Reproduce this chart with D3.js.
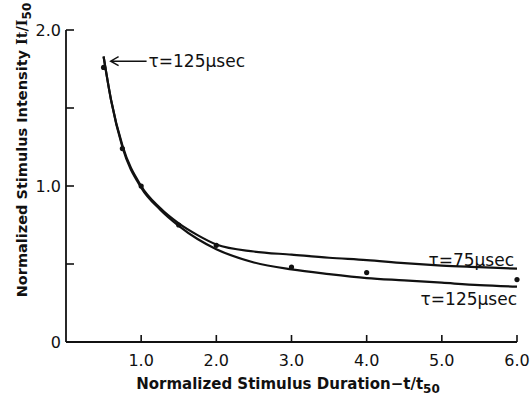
<!DOCTYPE html>
<html>
<head>
<meta charset="utf-8">
<script src="https://cdn.jsdelivr.net/npm/d3@7"></script>
<style>
  body { margin: 0; background: #fff; }
  text { font-family: "DejaVu Sans", sans-serif; fill: #111; }
</style>
</head>
<body>
<div id="chart"></div>
<script>
// curve sample points
const durations = [0.5, 0.6, 0.75, 1.0, 1.25, 1.5, 1.75, 2.0, 2.5, 3.0, 3.5, 4.0, 4.5, 5.0, 5.5, 6.0];
const tau75 = [1.83, 1.55, 1.26, 1.0, 0.86, 0.76, 0.685, 0.625, 0.58, 0.56, 0.54, 0.525, 0.505, 0.49, 0.48, 0.47];
const tau125 = [1.83, 1.55, 1.25, 0.99, 0.85, 0.745, 0.66, 0.595, 0.51, 0.465, 0.435, 0.41, 0.395, 0.38, 0.365, 0.355];

// measured points
const pointX = [0.5, 0.75, 1.0, 1.5, 2.0, 3.0, 4.0, 6.0];
const pointY = [1.76, 1.24, 1.0, 0.75, 0.62, 0.48, 0.445, 0.4];

const xTicks = [1, 2, 3, 4, 5, 6];
const yTicks = [0.5, 1.0, 1.5, 2.0];
const yTickLabels = { 0: '0', 1: '1.0', 2: '2.0' };

let width = 532,
  height = 398;

let svg = d3
  .select('#chart')
  .append('svg')
  .attr('width', width)
  .attr('height', height);

let x = d3.scaleLinear().domain([0, 6]).range([66, 517]);
let y = d3.scaleLinear().domain([0, 2]).range([342, 30]);

// axes: plain lines with inward ticks
let g = svg.append('g').style('stroke', '#111').style('fill', 'none');
g.append('line')
  .attr('x1', x(0)).attr('x2', x(6))
  .attr('y1', y(0)).attr('y2', y(0))
  .style('stroke-width', 1.8);
g.append('line')
  .attr('x1', x(0)).attr('x2', x(0))
  .attr('y1', y(0)).attr('y2', y(2))
  .style('stroke-width', 1.8);

g.selectAll('.xtick')
  .data(xTicks)
  .enter()
  .append('line')
  .attr('x1', (d) => x(d)).attr('x2', (d) => x(d))
  .attr('y1', y(0)).attr('y2', y(0) - 7)
  .style('stroke-width', 1.6);

g.selectAll('.ytick')
  .data(yTicks)
  .enter()
  .append('line')
  .attr('x1', x(0)).attr('x2', x(0) + 8)
  .attr('y1', (d) => y(d)).attr('y2', (d) => y(d))
  .style('stroke-width', 1.6);

// tick labels
svg.selectAll('.xlab')
  .data(xTicks)
  .enter()
  .append('text')
  .attr('x', (d) => x(d))
  .attr('y', 366)
  .attr('text-anchor', 'middle')
  .style('font-size', '16px')
  .text((d) => d.toFixed(1));

svg.selectAll('.ylab')
  .data(Object.keys(yTickLabels))
  .enter()
  .append('text')
  .attr('x', x(0) - 5)
  .attr('y', (d) => y(+d) + 6)
  .attr('text-anchor', 'end')
  .style('font-size', '16px')
  .text((d) => yTickLabels[d]);

// axis titles
let xt = svg.append('text')
  .attr('x', 288)
  .attr('y', 389)
  .attr('text-anchor', 'middle')
  .style('font-size', '15px')
  .style('font-weight', 'bold');
xt.append('tspan').text('Normalized Stimulus Duration\u2212t/t');
xt.append('tspan').attr('dy', 4).style('font-size', '12px').text('50');

let yt = svg.append('text')
  .attr('transform', 'translate(27,150) rotate(-90)')
  .attr('text-anchor', 'middle')
  .style('font-size', '14.5px')
  .style('font-weight', 'bold');
yt.append('tspan').text('Normalized Stimulus Intensity ');
yt.append('tspan').style('font-family', '"DejaVu Serif", serif').text('It/I');
yt.append('tspan').attr('dy', 4).style('font-size', '12px').text('50');

// the two fitted curves
let line = d3
  .line()
  .x((d) => x(d[0]))
  .y((d) => y(d[1]))
  .curve(d3.curveMonotoneX);

[tau75, tau125].forEach(function (series) {
  svg.append('path')
    .attr('d', line(durations.map((d, i) => [d, series[i]])))
    .style('fill', 'none')
    .style('stroke', '#111')
    .style('stroke-width', 2.2);
});

// data dots
svg.selectAll('.dot')
  .data(pointX)
  .enter()
  .append('circle')
  .attr('cx', (d) => x(d))
  .attr('cy', (d, i) => y(pointY[i]))
  .attr('r', 2.6)
  .style('fill', '#111');

// arrow pointing at the start of the curve
let tipX = x(0.5) + 7,
  tipY = y(1.8);
svg.append('path')
  .attr('d', 'M' + (tipX + 36) + ',' + tipY + 'H' + tipX +
    'M' + (tipX + 8) + ',' + (tipY - 4.5) + 'L' + tipX + ',' + tipY +
    'L' + (tipX + 8) + ',' + (tipY + 4.5))
  .style('fill', 'none')
  .style('stroke', '#111')
  .style('stroke-width', 1.4);

svg.append('text')
  .attr('x', tipX + 38)
  .attr('y', tipY + 6)
  .style('font-size', '17px')
  .text('\u03c4=125\u03bcsec');

// curve labels at right end
svg.append('text')
  .attr('x', x(6) - 3)
  .attr('y', y(0.5) + 2)
  .attr('text-anchor', 'end')
  .style('font-size', '17px')
  .text('\u03c4=75\u03bcsec');

svg.append('text')
  .attr('x', x(6))
  .attr('y', y(0.235))
  .attr('text-anchor', 'end')
  .style('font-size', '17px')
  .text('\u03c4=125\u03bcsec');
</script>
</body>
</html>
